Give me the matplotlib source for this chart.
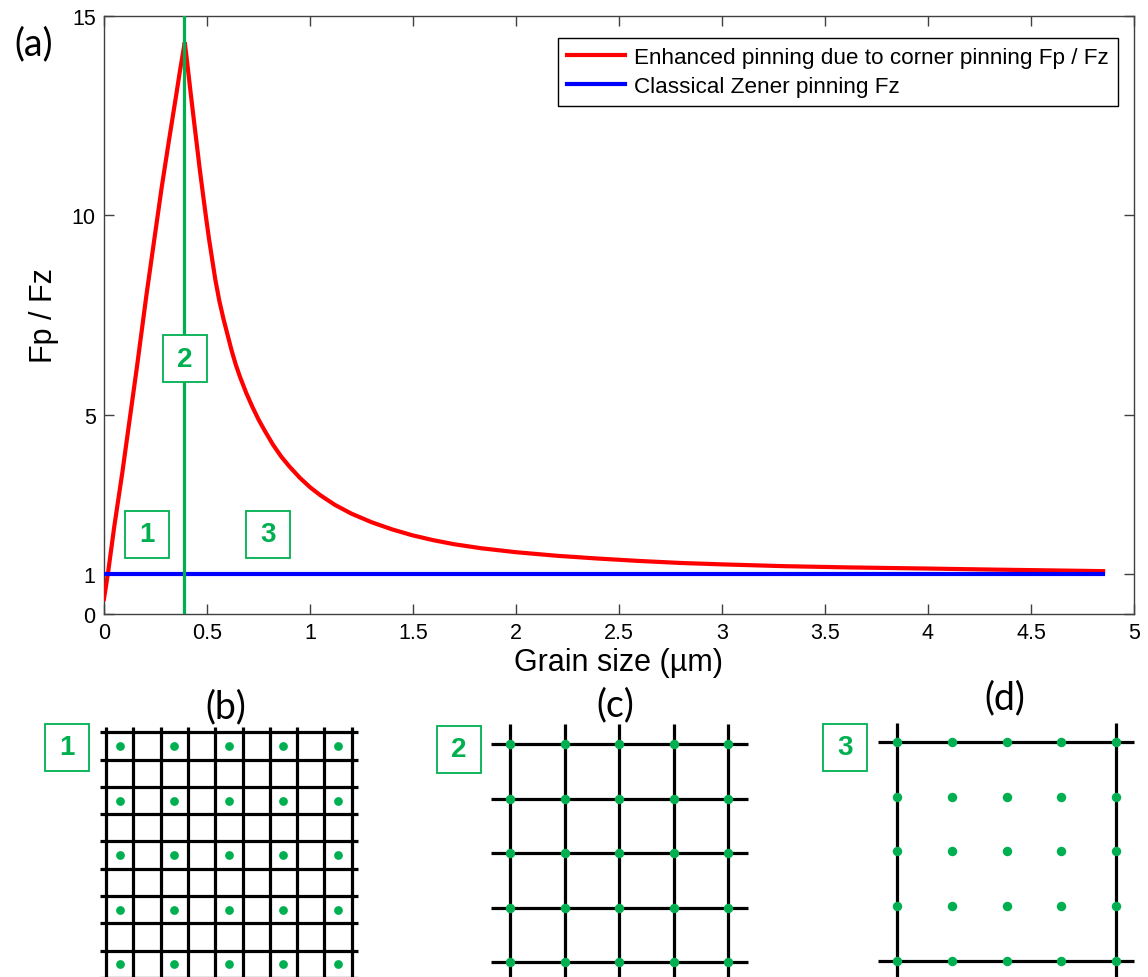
import matplotlib
matplotlib.use("Agg")
import matplotlib.pyplot as plt
from matplotlib.patches import Rectangle
import numpy as np

# ---------------- data ----------------
grain_size = [0.0, 0.02, 0.05, 0.089, 0.109, 0.16, 0.206, 0.247, 0.28, 0.316, 0.35, 0.368, 0.392,
              0.40, 0.41, 0.42, 0.436, 0.45, 0.465, 0.48, 0.494, 0.51, 0.525, 0.54, 0.56, 0.58,
              0.60, 0.62, 0.64, 0.66, 0.69, 0.72, 0.75, 0.78, 0.82, 0.86, 0.90, 0.95, 1.00,
              1.05, 1.12, 1.2, 1.3, 1.4, 1.5, 1.6, 1.7, 1.83, 2.0, 2.2, 2.4, 2.6, 2.8, 3.0,
              3.3, 3.6, 4.0, 4.3, 4.58, 4.85]
fp_over_fz = [0.38, 1.05, 2.2, 3.55, 4.3, 6.2, 8.0, 9.5, 10.7, 11.9, 13.0, 13.6, 14.34,
              14.0, 13.55, 13.1, 12.4, 11.8, 11.15, 10.55, 10.0, 9.4, 8.9, 8.4, 7.85, 7.4,
              7.0, 6.6, 6.25, 5.95, 5.55, 5.2, 4.88, 4.6, 4.25, 3.95, 3.7, 3.42, 3.18,
              2.98, 2.74, 2.52, 2.3, 2.12, 1.97, 1.85, 1.75, 1.65, 1.55, 1.46, 1.39, 1.33, 1.28, 1.245,
              1.20, 1.17, 1.14, 1.115, 1.095, 1.075]
zener_x = [0.0, 4.85]
zener_y = [1.0, 1.0]
boundary_x = 0.39

legend_labels = ["Enhanced pinning due to corner pinning Fp / Fz",
                 "Classical Zener pinning Fz"]
xticks = [0, 0.5, 1, 1.5, 2, 2.5, 3, 3.5, 4, 4.5, 5]
xtick_labels = ["0", "0.5", "1", "1.5", "2", "2.5", "3", "3.5", "4", "4.5", "5"]
yticks = [0, 1, 5, 10, 15]
ytick_labels = ["0", "1", "5", "10", "15"]

region_labels = ["1", "2", "3"]
region_x = [0.208, 0.392, 0.796]
region_y = [2.0, 6.4, 2.0]

# lattice panels (indices in cell units)
b_lines = list(range(10))
b_dot_idx = [0.5, 2.5, 4.5, 6.5, 8.5]
c_lines = list(range(5))
d_lines = [0, 4]
d_dot_idx = [0, 1, 2, 3, 4]

# ---------------- style ----------------
W, H = 1148, 978
GREEN = "#00B050"
FONT = ["Liberation Sans", "DejaVu Sans"]
LABFONT = ["Lato", "DejaVu Sans"]

fig = plt.figure(figsize=(W / 100, H / 100), dpi=100)

def fx(px):
    return px / W

def fy(py):
    return 1 - py / H

# main axes
L, R, T, B = 104, 1134, 17, 615
ax = fig.add_axes([fx(L), fy(B), fx(R - L), (B - T) / H])
ax.plot(grain_size, fp_over_fz, color="#FF0000", lw=3.0, label=legend_labels[0], zorder=3,
        solid_joinstyle="miter")
ax.plot(zener_x, zener_y, color="#0000FF", lw=3.0, label=legend_labels[1], zorder=3)
ax.axvline(boundary_x, color=GREEN, lw=2.3, zorder=4)
ax.set_xlim(0, 5)
ax.set_ylim(0, 15)
ax.set_xticks(xticks)
ax.set_xticklabels(xtick_labels)
ax.set_yticks(yticks)
ax.set_yticklabels(ytick_labels)
ax.tick_params(direction="in", top=True, right=True, length=7, width=1,
               color="#404040", labelsize=15.5, pad=6)
for lab in ax.get_xticklabels() + ax.get_yticklabels():
    lab.set_family(FONT)
for sp in ax.spines.values():
    sp.set_color("#404040")
    sp.set_linewidth(1.0)
ax.set_xlabel("Grain size (\u00b5m)", fontsize=22, family=FONT, labelpad=3)
ax.set_ylabel("Fp / Fz", fontsize=22, family=FONT, labelpad=9)

leg = ax.legend(loc="upper right", bbox_to_anchor=(fx(1118), fy(39)),
                bbox_transform=fig.transFigure, borderaxespad=0,
                fancybox=False, framealpha=1, edgecolor="#000000",
                prop={"family": FONT, "size": 16.2}, handlelength=2.6,
                labelspacing=0.35, borderpad=0.4, handletextpad=0.4)
leg.get_frame().set_linewidth(1.0)

# region boxes on main plot
BW, BH = 44, 47
for lbl, x, y in zip(region_labels, region_x, region_y):
    px, py = ax.transData.transform((x, y))
    ax.add_patch(Rectangle((px - BW / 2, py - BH / 2), BW, BH, transform=None,
                           facecolor="white", edgecolor=GREEN, lw=1.3, zorder=5))
    ax.text(x, y, lbl, ha="center", va="center", fontsize=20, fontweight="heavy",
            color=GREEN, family=FONT, zorder=6)

fig.text(fx(34), fy(44), "(a)", fontsize=27, family=LABFONT, ha="center", va="center")

# ---------------- lattice panels ----------------
def panel_axes(ox, oy, s, left_px, right_px, top_px):
    a = fig.add_axes([fx(left_px), 0, fx(right_px - left_px), (H - top_px) / H])
    a.set_xlim((left_px - ox) / s, (right_px - ox) / s)
    a.set_ylim((H - oy) / s, (top_px - oy) / s)
    a.axis("off")
    return a

LW = 2.3
# (b)
sb = 27.3
axb = panel_axes(106, 733.3, sb, 90, 370, 700)
for k in b_lines:
    axb.plot([k, k], [-0.2, 9.5], color="black", lw=LW, solid_capstyle="butt")
    axb.plot([-0.22, 9.22], [k, k], color="black", lw=LW, solid_capstyle="butt")
bx, by = np.meshgrid(b_dot_idx, b_dot_idx)
axb.plot(bx.ravel(), by.ravel(), "o", color=GREEN, ms=6.3, mew=0, zorder=3)

# (c)
sc = 54.6
axc = panel_axes(510, 745, sc, 470, 770, 700)
for k in c_lines:
    axc.plot([k, k], [-0.37, 4.7], color="black", lw=LW, solid_capstyle="butt")
    axc.plot([-0.34, 4.35], [k, k], color="black", lw=LW, solid_capstyle="butt")
cx, cy = np.meshgrid(c_lines, c_lines)
axc.plot(cx.ravel(), cy.ravel(), "o", color=GREEN, ms=6.8, mew=0, zorder=3)

# (d)
sd = 54.6
axd = panel_axes(897.3, 743.3, sd, 860, 1148, 700)
for k in d_lines:
    axd.plot([k, k], [-0.36, 4.7], color="black", lw=LW, solid_capstyle="butt")
    axd.plot([-0.35, 4.34], [k, k], color="black", lw=LW, solid_capstyle="butt")
dx, dy = np.meshgrid(d_dot_idx, d_dot_idx)
axd.plot(dx.ravel(), dy.ravel(), "o", color=GREEN, ms=6.8, mew=0, zorder=3)

# panel titles
for t, (px, py) in zip(["(b)", "(c)", "(d)"], [(226, 707), (615, 705), (1005, 698)]):
    fig.text(fx(px), fy(py), t, fontsize=27, family=LABFONT, ha="center", va="center")

# panel number boxes
for lbl, (px, py) in zip(region_labels, [(67, 748), (459, 750), (845, 748)]):
    fig.patches.append(Rectangle((fx(px - BW / 2), fy(py + BH / 2)), fx(BW), BH / H,
                                 transform=fig.transFigure, facecolor="white",
                                 edgecolor=GREEN, lw=1.3, zorder=5))
    fig.text(fx(px), fy(py), lbl, fontsize=20, fontweight="heavy", color=GREEN,
             family=FONT, ha="center", va="center", zorder=6)

fig.savefig("out.png", dpi=100)
